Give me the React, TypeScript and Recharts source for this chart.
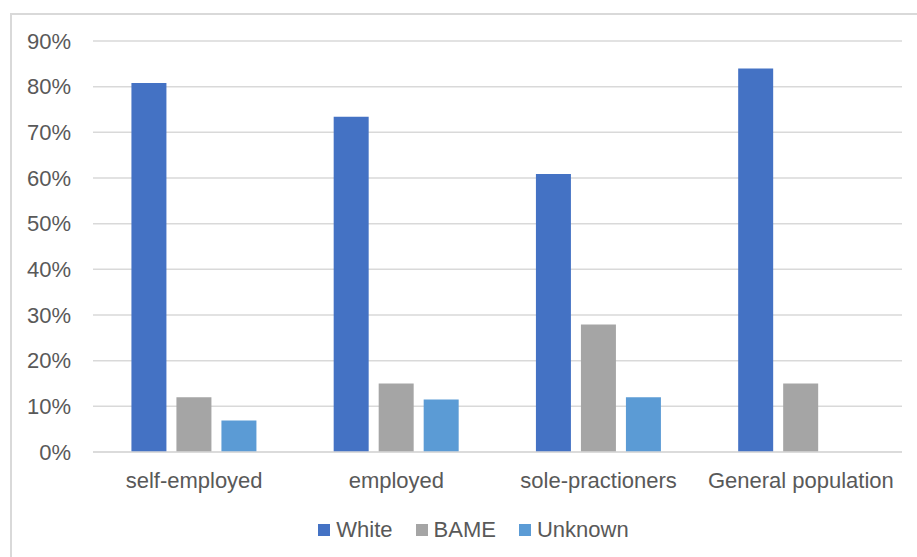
import { BarChart, Bar, XAxis, YAxis, CartesianGrid, Legend } from 'recharts';

const categories = ['self-employed', 'employed', 'sole-practioners', 'General population'];
const white = [80.8, 73.4, 60.9, 84.0];
const bame = [12.0, 15.0, 27.9, 15.0];
const unknown = [6.9, 11.5, 12.0, null];
const yTicks = [0, 10, 20, 30, 40, 50, 60, 70, 80, 90];

const SERIES = [
  { key: 'White', color: '#4472C4' },
  { key: 'BAME', color: '#A5A5A5' },
  { key: 'Unknown', color: '#5B9BD5' },
];

const data = categories.map((name, i) => ({
  name,
  White: white[i],
  BAME: bame[i],
  Unknown: unknown[i],
}));

const TEXT = '#595959';
const FONT = '"Liberation Sans", Arial, sans-serif';

const renderLegend = () => (
  <div style={{ display: 'flex', justifyContent: 'center', alignItems: 'center', fontFamily: FONT, fontSize: 22, color: TEXT, paddingLeft: 68 }}>
    {SERIES.map((s) => (
      <div key={s.key} style={{ display: 'flex', alignItems: 'center', marginRight: 23 }}>
        <span style={{ width: 12, height: 12, background: s.color, display: 'inline-block', marginRight: 6 }} />
        <span>{s.key}</span>
      </div>
    ))}
  </div>
);

export default function App() {
  return (
    <div style={{ position: 'fixed', left: 0, top: 0, width: 917, height: 557, overflow: 'hidden', background: '#fff' }}>
      <div style={{ position: 'absolute', left: 10, top: 13, width: 930, height: 580, border: '2px solid #D9D9D9', boxSizing: 'border-box' }} />
      <div style={{ position: 'absolute', left: 0, top: 0 }}>
        <BarChart
          width={917}
          height={557}
          data={data}
          margin={{ top: 41, right: 15, bottom: 16, left: 0 }}
          barCategoryGap="19%"
          barGap={10}
        >
          <CartesianGrid vertical={false} stroke="#D9D9D9" strokeWidth={1.5} />
          <XAxis
            dataKey="name"
            height={65}
            axisLine={{ stroke: '#D9D9D9', strokeWidth: 1.5 }}
            tickLine={false}
            tickMargin={14}
            tick={{ fill: TEXT, fontSize: 22, fontFamily: FONT }}
            interval={0}
          />
          <YAxis
            width={93}
            domain={[0, 90]}
            ticks={yTicks}
            axisLine={false}
            tickLine={false}
            tickMargin={16}
            tickFormatter={(v: number) => `${v}%`}
            tick={{ fill: TEXT, fontSize: 22, fontFamily: FONT }}
          />
          <Legend verticalAlign="bottom" height={24} content={renderLegend} />
          {SERIES.map((s) => (
            <Bar key={s.key} dataKey={s.key} fill={s.color} isAnimationActive={false} />
          ))}
        </BarChart>
      </div>
    </div>
  );
}
